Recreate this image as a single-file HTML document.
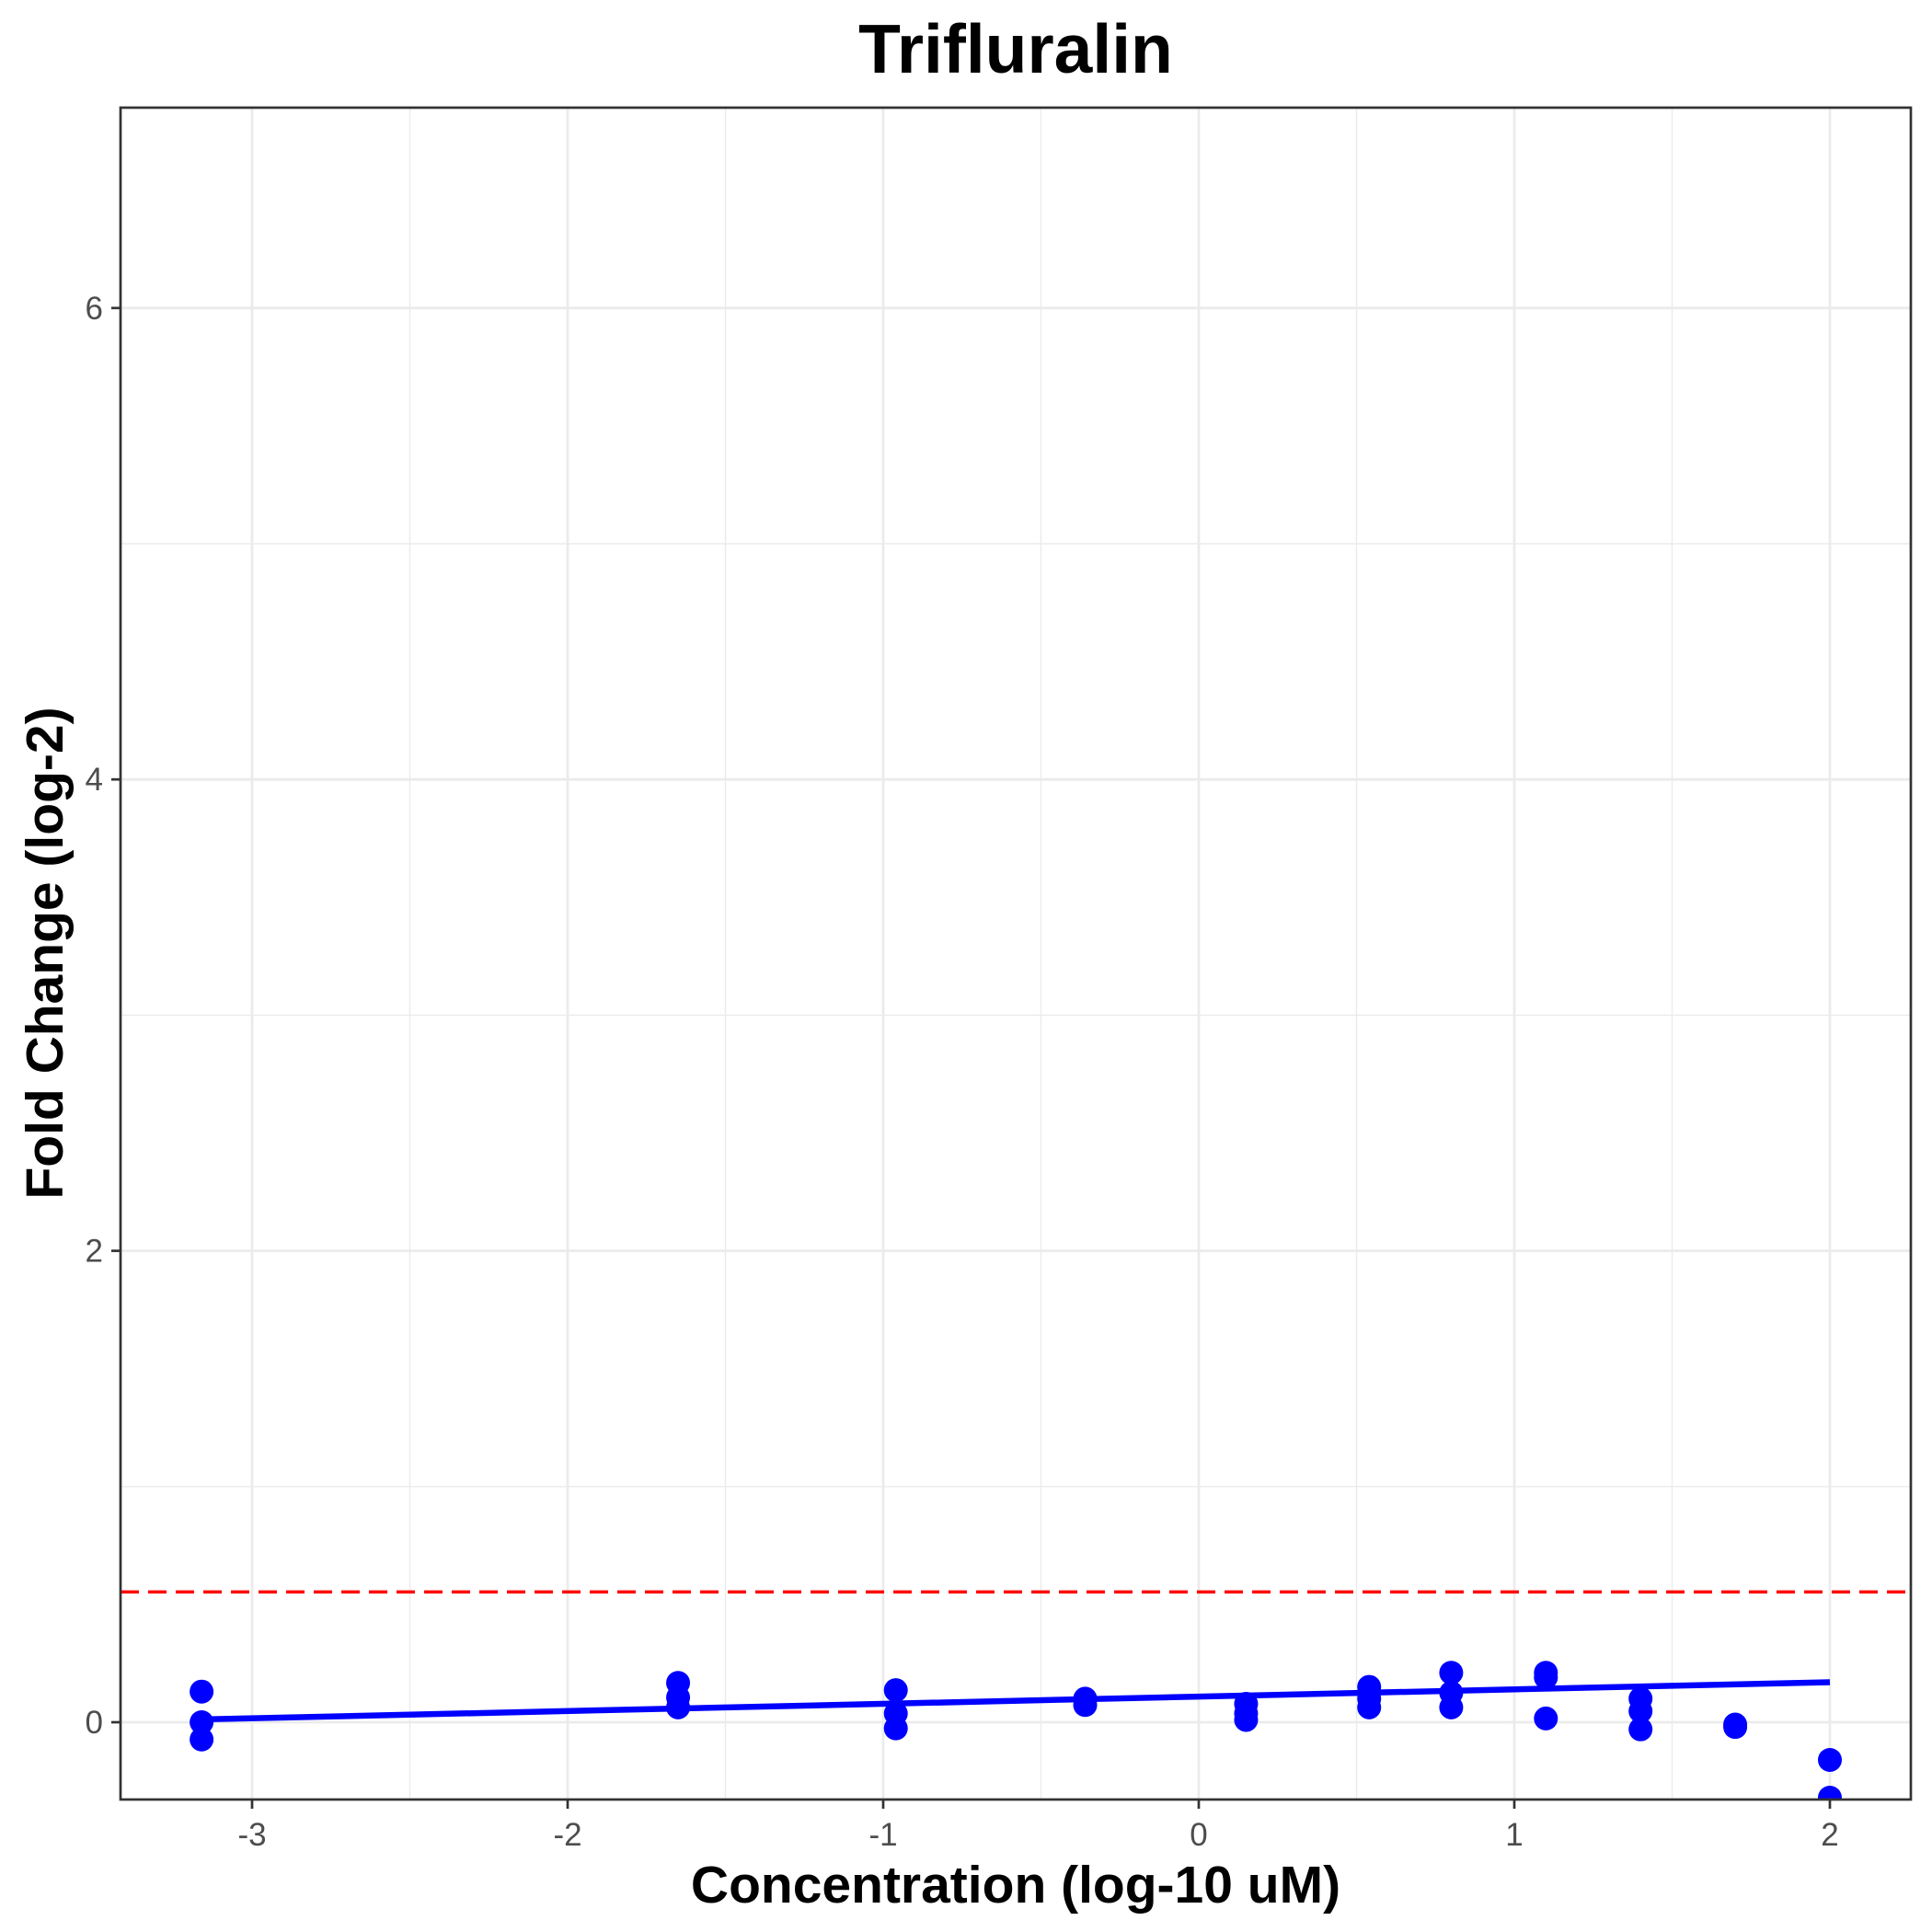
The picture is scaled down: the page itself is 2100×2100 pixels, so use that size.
<!DOCTYPE html>
<html><head><meta charset="utf-8"><style>
html,body{margin:0;padding:0;background:#fff;}
svg{display:block;font-family:"Liberation Sans",Arial,sans-serif;}
</style></head><body>
<svg id="chart" width="2100" height="2100" viewBox="0 0 2100 2100" xmlns="http://www.w3.org/2000/svg">
<rect x="0" y="0" width="2100" height="2100" fill="#fff"/>
<g id="grid"></g>
<g id="marks"></g>
<rect x="131" y="117" width="1946" height="1839" fill="none" stroke="#333" stroke-width="2.7"/>
<g id="axes"></g>
<text x="1104" y="79" text-anchor="middle" font-size="75" font-weight="bold" fill="#000">Trifluralin</text>
<text x="1104" y="2068" text-anchor="middle" font-size="57" font-weight="bold" fill="#000">Concentration (log-10 uM)</text>
<text transform="translate(68,1036) rotate(-90)" text-anchor="middle" font-size="57" font-weight="bold" fill="#000">Fold Change (log-2)</text>
</svg>
<script>
const xs = [-3.16,-3.16,-3.16,-1.65,-1.65,-1.65,-0.96,-0.96,-0.96,-0.36,-0.36,0.15,0.15,0.15,0.54,0.54,0.54,0.80,0.80,0.80,1.10,1.10,1.10,1.40,1.40,1.40,1.70,1.70,2.0,2.0];
const ys = [0.13,0.0,-0.073,0.167,0.105,0.063,0.136,0.037,-0.026,0.10,0.073,0.078,0.037,0.01,0.15,0.10,0.063,0.21,0.125,0.063,0.21,0.19,0.016,0.10,0.047,-0.03,-0.01,-0.02,-0.16,-0.32];
const fitX = [-3.16,2.0];
const fitY = [0.012,0.17];
const threshold = [0.553];
const xTicks = [-3,-2,-1,0,1,2];
const xMinor = [-2.5,-1.5,-0.5,0.5,1.5];
const yTicks = [0,2,4,6];
const yMinor = [1,3,5];
const NS='http://www.w3.org/2000/svg';
const X = v => 1303 + v*343;
const Y = v => 1872 - v*256.2;
const L=131,R=2077,T=117,B=1956;
function mk(tag, attrs, parent){const e=document.createElementNS(NS,tag);for(const k in attrs)e.setAttribute(k,attrs[k]);document.getElementById(parent).appendChild(e);return e;}
xMinor.forEach(v=>{const e=mk('line',{x1:X(v),x2:X(v),y1:T,y2:B,stroke:'#ebebeb','stroke-width':1.4},'grid');

});
yMinor.forEach(v=>{const e=mk('line',{x1:L,x2:R,y1:Y(v),y2:Y(v),stroke:'#ebebeb','stroke-width':1.4},'grid');

});
xTicks.forEach(v=>{const e=mk('line',{x1:X(v),x2:X(v),y1:T,y2:B,stroke:'#ebebeb','stroke-width':2.8},'grid');


const t=mk('line',{x1:X(v),x2:X(v),y1:B,y2:B+10,stroke:'#333','stroke-width':2.7},'axes');


const l=mk('text',{x:X(v),y:B+50,'text-anchor':'middle','font-size':'35',fill:'#4d4d4d'},'axes');
l.textContent=v;

});
yTicks.forEach(v=>{const e=mk('line',{x1:L,x2:R,y1:Y(v),y2:Y(v),stroke:'#ebebeb','stroke-width':2.8},'grid');


const t=mk('line',{x1:L-10,x2:L,y1:Y(v),y2:Y(v),stroke:'#333','stroke-width':2.7},'axes');


const l=mk('text',{x:L-19,y:Y(v)+12,'text-anchor':'end','font-size':'35',fill:'#4d4d4d'},'axes');
l.textContent=v;

});
threshold.forEach(v=>{const e=mk('line',{x1:L,x2:R,y1:Y(v),y2:Y(v),stroke:'#ff0000','stroke-width':3.5,'stroke-dasharray':'20 10'},'marks');

});
const fit=mk('line',{x1:X(fitX[0]),y1:Y(fitY[0]),x2:X(fitX[1]),y2:Y(fitY[1]),stroke:'#0000ff','stroke-width':6.5},'marks');


const clip=mk('clipPath',{id:'pc'},'marks');
const cr=document.createElementNS(NS,'rect');cr.setAttribute('x',L);cr.setAttribute('y',T);cr.setAttribute('width',R-L);cr.setAttribute('height',B-T);clip.appendChild(cr);
xs.forEach((v,i)=>{const c=mk('circle',{cx:X(v),cy:Y(ys[i]),r:13,fill:'#0000ff','clip-path':'url(#pc)'},'marks');

});
</script>
</body></html>
